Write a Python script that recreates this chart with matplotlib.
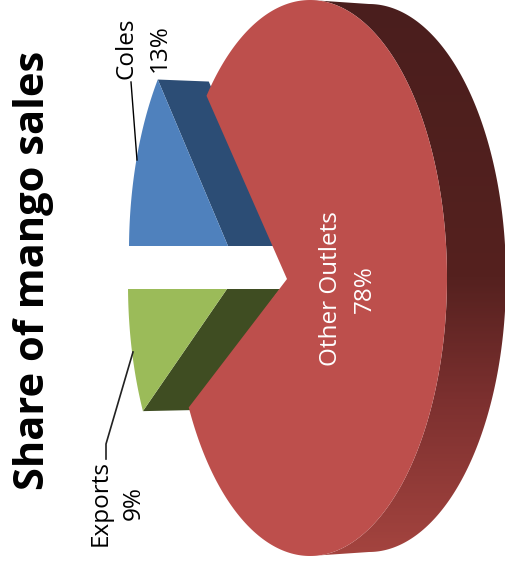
import numpy as np
import matplotlib
matplotlib.use("Agg")
import matplotlib.pyplot as plt
from matplotlib.colors import LinearSegmentedColormap
from matplotlib.patches import Polygon

# Share of sales per outlet
outlets = ["Coles", "Other Outlets", "Exports"]
shares = [13, 78, 9]
title = "Share of mango sales"

plt.rcParams['font.family'] = ['Open Sans', 'DejaVu Sans']

RX, RY = 137, 278  # ellipse radii of the tilted pie, in pixels


def wedge_outline(apex, centre, start, share, stretch=1.0):
    # walk from the apex along rays until they hit the ellipse, angles measured from the left, downwards
    sweep = share * 3.6
    pts = []
    for ang in np.radians(np.linspace(start, start + sweep, 80)):
        dx = -np.cos(ang) * RX
        dy = np.sin(ang) * RY * stretch
        ox, oy = apex[0] - centre[0], apex[1] - centre[1]
        a = (dx / RX) ** 2 + (dy / RY) ** 2
        b = 2 * (ox * dx / RX ** 2 + oy * dy / RY ** 2)
        c = (ox / RX) ** 2 + (oy / RY) ** 2 - 1
        t = (-b + np.sqrt(b * b - 4 * a * c)) / (2 * a)
        pts.append((apex[0] + t * dx, apex[1] + t * dy))
    return np.array(pts)


fig = plt.figure(figsize=(5.06, 5.67), dpi=100)
ax = fig.add_axes([0, 0, 1, 1])

# Other Outlets: side first, then top face
cx, cy = 310, 278
depth = 59
t = np.radians(np.linspace(-90, 90, 200))
front = np.column_stack([cx + RX * np.cos(t), cy + RY * np.sin(t)])
back = np.column_stack([cx + depth + RX * np.cos(t[::-1]), cy + (RY - 4) * np.sin(t[::-1])])
side = Polygon(np.vstack([front, back]), closed=True, fc="none", ec="none")
ax.add_patch(side)
side_cmap = LinearSegmentedColormap.from_list(
    "side", [(0, "#4a1e1d"), (0.5, "#55211f"), (0.72, "#7c302f"), (1, "#a4443f")])
grad = ax.imshow(np.linspace(0, 1, 300).reshape(-1, 1), cmap=side_cmap, aspect="auto",
                 extent=[300, 506, 556, 0], zorder=1)
grad.set_clip_path(side)

# Coles
coles_apex = (228, 246)
coles = wedge_outline(coles_apex, (266, 250), -shares[0] * 3.6, shares[0], 1.097)
ax.add_patch(Polygon([coles[0], coles[0] + (51, 2), (coles_apex[0] + 51, coles_apex[1]), coles_apex],
                     closed=True, fc="#2c4d75", ec="none", zorder=2))
ax.add_patch(Polygon(np.vstack([coles, coles_apex]), closed=True, fc="#4f81bd", ec="none", zorder=3))

# Exports
exports_apex = (227, 289)
exports = wedge_outline(exports_apex, (265, 285), 0, shares[2], 1.128)
ax.add_patch(Polygon([exports[-1], exports[-1] + (47, -1), (exports_apex[0] + 53, exports_apex[1]), exports_apex],
                     closed=True, fc="#3f4d22", ec="none", zorder=2))
ax.add_patch(Polygon(np.vstack([exports, exports_apex]), closed=True, fc="#9bbb59", ec="none", zorder=3))

# Other Outlets top face, the gap left open for the two other slices
red_apex = (287, 279)
gap = wedge_outline(red_apex, (cx, cy), -47.3, 100 - shares[1], 1.035)
a0 = np.arctan2((gap[-1][1] - cy) / RY, (gap[-1][0] - cx) / RX)  # lower corner
a1 = np.arctan2((gap[0][1] - cy) / RY, (gap[0][0] - cx) / RX)  # upper corner
t = np.linspace(a0, a1, 300)  # runs through the right hand side
arc = np.column_stack([cx + RX * np.cos(t), cy + RY * np.sin(t)])
ax.add_patch(Polygon(np.vstack([arc, red_apex]), closed=True, fc="#bd4f4c", ec="none", zorder=4))

# leader lines
ax.plot([131, 137], [82, 160], color="black", lw=1, zorder=5)
ax.plot([106, 106, 133], [459, 444, 352], color="#222222", lw=1.2, zorder=5)

ax.text(34, 270, title, rotation=90, ha="center", va="center", fontsize=30, fontweight="bold", color="black")
ax.text(143, 48, f"{outlets[0]}\n{shares[0]}%", rotation=90, ha="center", va="center", fontsize=17.5,
        linespacing=1.5, multialignment="center", color="black")
ax.text(348, 289, f"{outlets[1]}\n{shares[1]}%", rotation=90, ha="center", va="center", fontsize=17.5,
        linespacing=1.5, multialignment="center", color="white", zorder=6)
ax.text(117, 503, f"{outlets[2]}\n{shares[2]}%", rotation=90, ha="center", va="center", fontsize=17.5,
        linespacing=1.5, multialignment="center", color="black")

ax.set_xlim(0, 506)
ax.set_ylim(567, 0)
ax.axis("off")

fig.savefig("out.png", dpi=100)
